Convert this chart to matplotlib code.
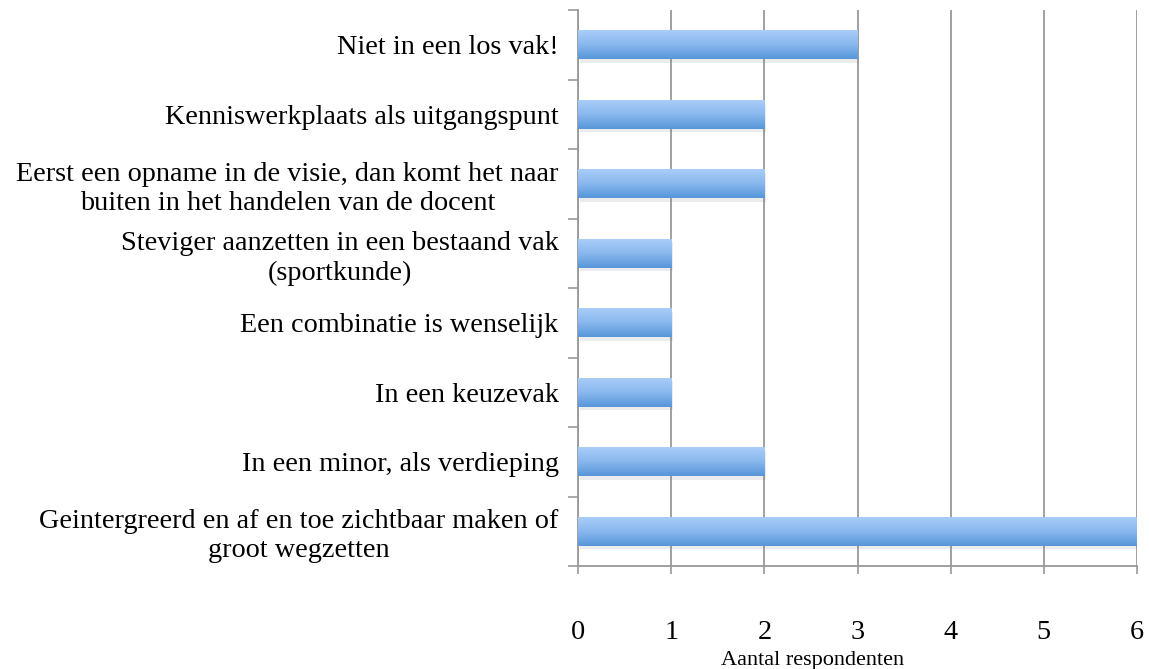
import matplotlib
matplotlib.use("Agg")
import matplotlib.pyplot as plt
import numpy as np
from matplotlib.colors import LinearSegmentedColormap

categories = [
    "Niet in een los vak!",
    "Kenniswerkplaats als uitgangspunt",
    "Eerst een opname in de visie, dan komt het naar\nbuiten in het handelen van de docent",
    "Steviger aanzetten in een bestaand vak\n(sportkunde)",
    "Een combinatie is wenselijk",
    "In een keuzevak",
    "In een minor, als verdieping",
    "Geintergreerd en af en toe zichtbaar maken of\ngroot wegzetten",
]
values = [3, 2, 2, 1, 1, 1, 2, 6]
xticks = [0, 1, 2, 3, 4, 5, 6]
xlabel = "Aantal respondenten"

plt.rcParams['font.family'] = ['Liberation Serif', 'DejaVu Serif']
FS = 20.3

fig = plt.figure(figsize=(11.49, 6.69), dpi=100)
ax = fig.add_axes([578/1149, 103/669, (1137-578)/1149, (566-10)/669])

y = np.arange(len(categories))
h = 0.42

# shadow
ax.barh(y + 0.05, values, height=h, left=0.02, color="#808080", alpha=0.15, zorder=2, linewidth=0)
bars = ax.barh(y, values, height=h, color="none", zorder=3, linewidth=0)

cmap = LinearSegmentedColormap.from_list("g", ["#abcff9", "#8ab8ee", "#5696d9"])
grad = np.linspace(0, 1, 256).reshape(-1, 1)
for b in bars:
    x0, y0 = b.get_x(), b.get_y()
    w, hh = b.get_width(), b.get_height()
    im = ax.imshow(grad, extent=[x0, x0 + w, y0 + hh, y0], aspect="auto",
                   cmap=cmap, zorder=3, origin="upper")
    im.set_clip_path(b)

ax.set_xlim(0, 6)
ax.set_ylim(len(categories) - 0.5, -0.5)
ax.set_aspect("auto")

ax.set_xticks(xticks)
ax.set_xticklabels([str(t) for t in xticks], fontsize=FS)
ax.tick_params(axis="x", length=6, width=1.2, color="#999999", pad=33, direction="out")
ax.set_xlabel(xlabel, fontsize=16)
ax.xaxis.set_label_coords(0.419, -0.152)

ax.set_yticks(y)
ax.set_yticklabels(categories, fontsize=FS, linespacing=1.22, multialignment="center")
ax.set_yticks(np.arange(len(categories) + 1) - 0.5, minor=True)
ax.tick_params(axis="y", which="major", length=0, pad=14)
ax.tick_params(axis="y", which="minor", length=7, width=1.2, color="#999999", direction="out")

ax.grid(axis="x", color="#999999", linewidth=1.3, zorder=1)
ax.set_axisbelow(True)
for s in ["top", "right"]:
    ax.spines[s].set_visible(False)
for s in ["left", "bottom"]:
    ax.spines[s].set_color("#999999")
    ax.spines[s].set_linewidth(1.3)

fig.savefig("out.png", dpi=100)
